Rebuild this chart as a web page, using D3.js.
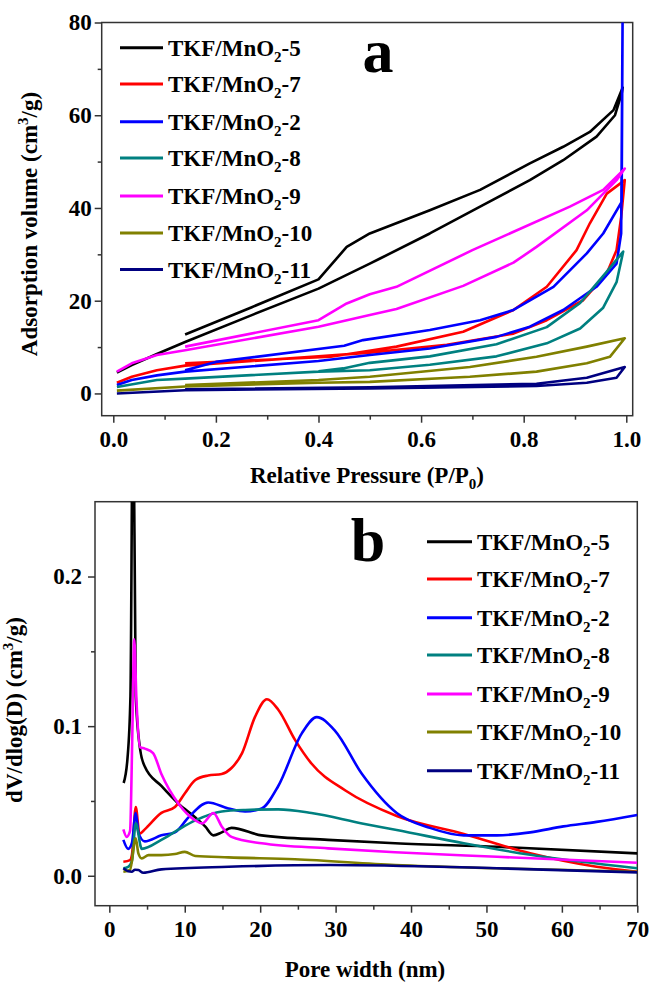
<html>
<head>
<script src="https://d3js.org/d3.v7.min.js"></script>
<style>
body { margin: 0; background: #fff; }
text { font-family: "Liberation Serif", "Times New Roman", serif; font-weight: bold; fill: #000; }
</style>
</head>
<body>
<div id="chart"></div>
<script>
// sample names and colours (legend order = draw order)
var names = ["5", "7", "2", "8", "9", "10", "11"];
var colors = ["#000000", "#ff0000", "#0000ff", "#008080", "#ff00ff", "#808000", "#000080"];

// panel a: N2 isotherms, [P/P0, volume] traced as adsorption then desorption
var iso5 = [[0.007,4.5],[0.036,6.1],[0.085,8.5],[0.14,11.1],[0.27,16.9],[0.4,22.6],[0.5,28.0],[0.52,29.1],[0.617,34.5],[0.715,40.3],[0.812,46.0],[0.877,50.3],[0.942,55.4],[0.978,60.0],[0.991,64.7],[0.993,66.0],
  [0.975,61.1],[0.929,56.4],[0.877,53.2],[0.812,49.6],[0.715,43.9],[0.617,39.5],[0.5,34.5],[0.455,31.6],[0.4,24.6],[0.27,18.6],[0.14,12.7]];
var iso7 = [[0.007,2.3],[0.036,3.6],[0.085,5.0],[0.14,6.0],[0.4,8.0],[0.5,8.8],[0.65,10.5],[0.78,12.9],[0.845,15.8],[0.916,20.1],[0.962,25.9],[0.981,30.9],[0.99,38.0],[0.997,46.0],
  [0.962,43.1],[0.929,36.7],[0.903,30.9],[0.845,23.0],[0.78,18.0],[0.682,13.3],[0.552,10.1],[0.424,7.9],[0.14,6.5]];
var iso2 = [[0.007,1.8],[0.036,2.9],[0.085,3.9],[0.14,4.7],[0.4,7.0],[0.5,8.3],[0.617,9.7],[0.747,12.2],[0.812,14.4],[0.877,18.0],[0.942,23.0],[0.981,28.0],[0.99,34.5],[0.993,85],
  [0.991,41.3],[0.955,34.5],[0.923,30.2],[0.858,23.0],[0.78,18.0],[0.715,15.8],[0.617,13.7],[0.487,11.5],[0.45,10.3],[0.2,6.8],[0.14,5.0]];
var iso8 = [[0.007,1.4],[0.085,2.9],[0.14,3.2],[0.4,4.7],[0.5,5.0],[0.617,6.2],[0.747,8.0],[0.845,10.8],[0.91,14.0],[0.955,18.5],[0.981,24.0],[0.994,30.6],
  [0.96,26.0],[0.91,19.5],[0.845,14.3],[0.747,10.6],[0.617,8.0],[0.5,6.6],[0.448,5.4],[0.4,4.8]];
var iso9 = [[0.007,4.7],[0.036,6.5],[0.085,8.3],[0.14,9.3],[0.4,14.4],[0.5,16.9],[0.552,18.2],[0.682,23.2],[0.78,28.2],[0.825,31.6],[0.923,39.5],[0.981,46.0],[0.997,48.5],
  [0.955,43.9],[0.89,40.3],[0.70,30.9],[0.552,23.0],[0.5,21.4],[0.455,19.4],[0.4,15.8],[0.14,10.1]];
var iso10 = [[0.007,0.6],[0.14,1.5],[0.4,2.3],[0.5,2.5],[0.695,3.6],[0.825,4.7],[0.923,6.5],[0.968,7.9],[0.997,11.9],
  [0.923,10.1],[0.825,7.9],[0.695,5.7],[0.5,3.6],[0.4,2.9],[0.14,1.8]];
var iso11 = [[0.007,0.0],[0.14,0.7],[0.5,1.1],[0.825,1.6],[0.923,2.3],[0.981,3.4],[0.997,5.7],
  [0.923,3.4],[0.825,2.1],[0.5,1.3],[0.14,0.9]];

// panel b: pore size distribution, [pore width nm, dV/dlog(D)]
var psd5 = [[1.9,0.062],[2.4,0.078],[2.8,0.12],[3.15,0.34],[3.5,0.12],[4.1,0.084],[4.7,0.073],[6.9,0.060],[9.2,0.048],[11.4,0.039],[12.7,0.033],[13.8,0.027],[14.9,0.029],[16.2,0.032],[20.2,0.027],[29,0.024],[37.9,0.0217],[51.4,0.0194],[70,0.015]];
var psd7 = [[1.86,0.0094],[2.75,0.0105],[3.0,0.014],[3.5,0.046],[4.0,0.028],[4.7,0.031],[6.9,0.042],[8.7,0.046],[10,0.055],[11.4,0.064],[13.1,0.067],[14.9,0.068],[16.2,0.072],[17.6,0.082],[19.3,0.106],[20.9,0.118],[22.4,0.111],[24.6,0.091],[26.8,0.075],[31.3,0.057],[38.1,0.040],[47,0.028],[55.8,0.015],[64.6,0.006],[70,0.0027]];
var psd2 = [[1.86,0.024],[2.5,0.018],[3.0,0.022],[3.5,0.042],[3.9,0.028],[4.7,0.023],[6.9,0.027],[8.7,0.029],[10.5,0.039],[13.1,0.049],[15.8,0.045],[18,0.043],[20.2,0.045],[22.4,0.060],[25.5,0.095],[27.5,0.106],[29.9,0.097],[33.5,0.068],[38.1,0.042],[42.5,0.032],[47,0.027],[51.4,0.027],[55.8,0.029],[60.2,0.033],[64.6,0.036],[70,0.0406]];
var psd8 = [[1.86,0.005],[2.5,0.006],[3.0,0.010],[3.5,0.035],[4.3,0.018],[6.9,0.024],[9.2,0.031],[11.4,0.037],[14.9,0.043],[18,0.044],[22.4,0.0444],[26.8,0.042],[33.5,0.035],[38.1,0.0306],[47,0.0217],[55.8,0.014],[70,0.005]];
var psd9 = [[1.86,0.031],[2.3,0.026],[2.75,0.030],[3.05,0.095],[3.3,0.158],[3.6,0.117],[4.07,0.086],[4.7,0.085],[5.8,0.082],[6.9,0.068],[9.2,0.048],[11.4,0.037],[12.3,0.035],[13.8,0.042],[14.9,0.033],[16.2,0.026],[20.2,0.0217],[29,0.0183],[37.9,0.0157],[51.4,0.0127],[70,0.0087]];
var psd10 = [[1.86,0.0027],[2.75,0.004],[3.5,0.025],[3.85,0.015],[4.3,0.0116],[5.2,0.0138],[6.9,0.0138],[8.7,0.0145],[10,0.016],[11.4,0.0132],[15.8,0.0123],[24.6,0.011],[37.9,0.0072],[51.4,0.005],[70,0.0027]];
var psd11 = [[1.86,0.005],[2.5,0.003],[2.97,0.0027],[3.4,0.004],[3.85,0.0038],[4.5,0.002],[6.9,0.0043],[15.8,0.006],[29.3,0.0072],[51.4,0.005],[70,0.0023]];

var isoData = [iso5, iso7, iso2, iso8, iso9, iso10, iso11];
var psdData = [psd5, psd7, psd2, psd8, psd9, psd10, psd11];

// ticks
var xTicksA = [0, 0.2, 0.4, 0.6, 0.8, 1.0];
var xMinorA = [0.1, 0.3, 0.5, 0.7, 0.9];
var yTicksA = [0, 20, 40, 60, 80];
var yMinorA = [10, 30, 50, 70];
var xTicksB = [0, 10, 20, 30, 40, 50, 60, 70];
var xMinorB = [5, 15, 25, 35, 45, 55, 65];
var yTicksB = [0.0, 0.1, 0.2];
var yMinorB = [0.05, 0.15];

var svg = d3.select("#chart").append("svg")
    .attr("width", 653)
    .attr("height", 990);

var frameColor = "#333";

function panel(id, xs, ys, opt) {
    var x0 = xs.range()[0], x1 = xs.range()[1];
    var y0 = ys.range()[1], y1 = ys.range()[0];

    svg.append("clipPath").attr("id", id)
      .append("rect").attr("x", x0).attr("y", y0).attr("width", x1 - x0).attr("height", y1 - y0);

    // axes
    var gx = svg.append("g").attr("transform", "translate(0," + y1 + ")")
        .call(d3.axisBottom(xs).tickValues(opt.xt).tickFormat(opt.xf).tickSize(7).tickPadding(8).tickSizeOuter(0));
    var gxm = svg.append("g").attr("transform", "translate(0," + y1 + ")")
        .call(d3.axisBottom(xs).tickValues(opt.xm).tickFormat("").tickSize(4).tickSizeOuter(0));
    var gy = svg.append("g").attr("transform", "translate(" + x0 + ",0)")
        .call(d3.axisLeft(ys).tickValues(opt.yt).tickFormat(opt.yf).tickSize(7).tickPadding(opt.ypad).tickSizeOuter(0));
    var gym = svg.append("g").attr("transform", "translate(" + x0 + ",0)")
        .call(d3.axisLeft(ys).tickValues(opt.ym).tickFormat("").tickSize(4).tickSizeOuter(0));
    [gx, gxm, gy, gym].forEach(function(g) {
        g.select(".domain").remove();
        g.selectAll("line").attr("stroke", frameColor).attr("stroke-width", 1.5);
        g.selectAll("text").attr("font-size", 23).attr("font-family", null).attr("fill", "#000");
    });

    svg.append("rect").attr("x", x0).attr("y", y0).attr("width", x1 - x0).attr("height", y1 - y0)
        .attr("fill", "none").attr("stroke", frameColor).attr("stroke-width", 1.5);

    var line = d3.line().x(function(d) { return xs(d[0]); }).y(function(d) { return ys(d[1]); })
        .curve(opt.curve);

    svg.append("g").attr("clip-path", "url(#" + id + ")")
      .selectAll("path").data(opt.data).enter().append("path")
        .attr("d", line)
        .attr("fill", "none")
        .attr("stroke", function(d, i) { return colors[i]; })
        .attr("stroke-width", 2.6)
        .attr("stroke-linejoin", "round");
}

var xA = d3.scaleLinear().domain([-0.0226, 1.0125]).range([101.7, 632.7]);
var yA = d3.scaleLinear().domain([-4.8, 80]).range([415.7, 22.5]);
var xB = d3.scaleLinear().domain([-1.9, 70]).range([95, 637.3]);
var yB = d3.scaleLinear().domain([-0.02, 0.25]).range([905.7, 501.7]);

panel("clipA", xA, yA, {xt: xTicksA, xm: xMinorA, yt: yTicksA, ym: yMinorA,
    xf: d3.format(".1f"), yf: d3.format("d"), ypad: 3, data: isoData, curve: d3.curveLinear});
panel("clipB", xB, yB, {xt: xTicksB, xm: xMinorB, yt: yTicksB, ym: yMinorB,
    xf: d3.format("d"), yf: d3.format(".1f"), ypad: 6, data: psdData, curve: d3.curveMonotoneX});

// legends
function legend(lx0, lx1, tx, rows) {
    names.forEach(function(n, i) {
        svg.append("line").attr("x1", lx0).attr("x2", lx1).attr("y1", rows[i]).attr("y2", rows[i])
            .attr("stroke", colors[i]).attr("stroke-width", 3);
        var t = svg.append("text").attr("x", tx).attr("y", rows[i] + 8).attr("font-size", 23);
        t.append("tspan").text("TKF/MnO");
        t.append("tspan").attr("dy", 6).attr("font-size", 15).text("2");
        t.append("tspan").attr("dy", -6).text("-" + n);
    });
}
legend(120, 163, 168, [47.7, 84, 121.7, 158, 196, 233, 269.5]);
legend(427, 472, 477, [541.7, 579, 617.7, 655, 694, 732, 770.7]);

// panel letters
svg.append("text").attr("x", 378).attr("y", 72).attr("font-size", 62).attr("text-anchor", "middle").text("a");
svg.append("text").attr("x", 368).attr("y", 561).attr("font-size", 62).attr("text-anchor", "middle").text("b");

// axis titles
var tA = svg.append("text").attr("x", 367).attr("y", 483).attr("font-size", 23).attr("text-anchor", "middle");
tA.append("tspan").text("Relative Pressure (P/P");
tA.append("tspan").attr("dy", 6).attr("font-size", 15).text("0");
tA.append("tspan").attr("dy", -6).text(")");

var tB = svg.append("text").attr("x", 365).attr("y", 977).attr("font-size", 23).attr("text-anchor", "middle")
    .text("Pore width (nm)");

var yTA = svg.append("text").attr("transform", "translate(37,224) rotate(-90)").attr("font-size", 23).attr("text-anchor", "middle");
yTA.append("tspan").text("Adsorption volume (cm");
yTA.append("tspan").attr("dy", -9).attr("font-size", 15).text("3");
yTA.append("tspan").attr("dy", 9).text("/g)");

var yTB = svg.append("text").attr("transform", "translate(22,710) rotate(-90)").attr("font-size", 23).attr("text-anchor", "middle");
yTB.append("tspan").text("dV/dlog(D) (cm");
yTB.append("tspan").attr("dy", -9).attr("font-size", 15).text("3");
yTB.append("tspan").attr("dy", 9).text("/g)");
</script>
</body>
</html>
